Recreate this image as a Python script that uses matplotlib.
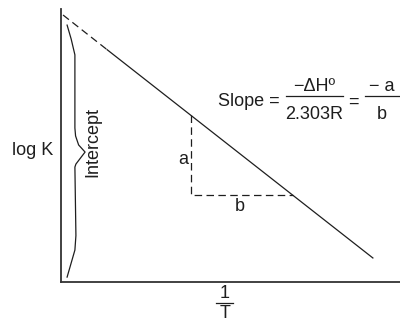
#!/usr/bin/env python3
import matplotlib
matplotlib.use('Agg')
import matplotlib.pyplot as plt
from matplotlib.lines import Line2D

plt.rcParams['font.family'] = ['Liberation Sans', 'DejaVu Sans']

# van't Hoff plot: log K against 1/T (arbitrary units)
extrap_x = [0.06, 1.36]        # dashed extrapolation to the intercept
extrap_y = [9.78, 8.51]
line_x = [1.36, 9.20]          # measured straight line
line_y = [8.51, 0.88]

# slope triangle
tri_x = [3.83, 3.83, 6.84]
tri_y = [6.12, 3.19, 3.19]

# curly brace marking the intercept
brace_x = [0.18, 0.30, 0.41, 0.41, 0.43, 0.52, 0.71, 0.55, 0.44, 0.41, 0.44, 0.41, 0.18]
brace_y = [9.41, 8.90, 8.32, 5.64, 5.35, 5.02, 4.76, 4.50, 4.32, 4.21, 1.70, 1.17, 0.18]

ink = '#1e1e1e'
W, H = 400, 321


def fx(x):
    return x / W


def fy(y):
    return 1 - y / H


fig = plt.figure(figsize=(W / 100, H / 100), dpi=100)
ax = fig.add_axes([61 / W, 39 / H, 339 / W, 273 / H])
ax.set_xlim(0, 10)
ax.set_ylim(0, 10)

ax.plot(extrap_x, extrap_y, color=ink, lw=0.9, dashes=(6, 3.5))
ax.plot(line_x, line_y, color=ink, lw=0.9)
ax.plot(tri_x, tri_y, color=ink, lw=0.9, dashes=(6, 3.5))
ax.plot(brace_x, brace_y, color=ink, lw=0.9)

ax.text(3.62, 4.47, 'a', fontsize=13, ha='center', va='center', color=ink)
ax.text(5.28, 2.75, 'b', fontsize=13, ha='center', va='center', color=ink)
ax.text(0.94, 5.13, 'Intercept', fontsize=13, rotation=90, ha='center', va='center', color=ink)

# slope formula, laid out piece by piece (fractions at full size)
fs = 13
fig.text(fx(218), fy(102), 'Slope =', fontsize=fs, ha='left', va='center', color=ink)
fig.text(fx(314), fy(87), '\u2212\u0394H\u00ba', fontsize=fs, ha='center', va='center', color=ink)
fig.add_artist(Line2D([fx(286), fx(343)], [fy(96), fy(96)], color=ink, lw=0.9))
fig.text(fx(314), fy(115), '2.303R', fontsize=fs, ha='center', va='center', color=ink)
fig.text(fx(353), fy(102), '=', fontsize=fs, ha='center', va='center', color=ink)
fig.text(fx(382), fy(87), '\u2212 a', fontsize=fs, ha='center', va='center', color=ink)
fig.add_artist(Line2D([fx(365), fx(399)], [fy(96), fy(96)], color=ink, lw=0.9))
fig.text(fx(382), fy(115), 'b', fontsize=fs, ha='center', va='center', color=ink)

fig.text(fx(33), fy(150), 'log K', fontsize=fs, ha='center', va='center', color=ink)

# x label 1/T as a stacked fraction
fig.text(fx(225), fy(294), '1', fontsize=fs, ha='center', va='center', color=ink)
fig.add_artist(Line2D([fx(216), fx(233)], [fy(303), fy(303)], color=ink, lw=0.9))
fig.text(fx(225), fy(305), 'T', fontsize=fs, ha='center', va='top', color=ink)

for side in ['top', 'right']:
    ax.spines[side].set_visible(False)
for side in ['left', 'bottom']:
    ax.spines[side].set_color('#333333')
    ax.spines[side].set_linewidth(1.3)
ax.set_xticks([])
ax.set_yticks([])

plt.savefig('out.png', dpi=100)
